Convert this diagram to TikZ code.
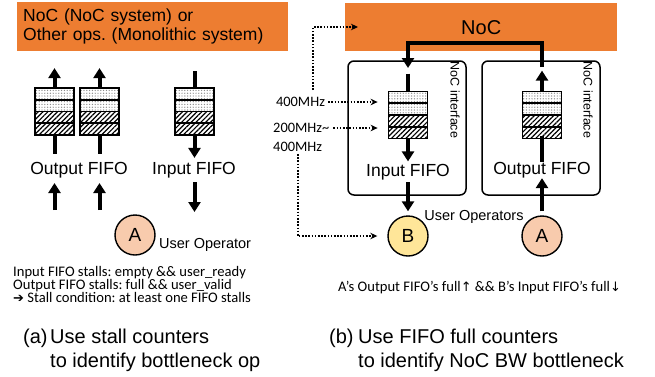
\documentclass[tikz,border=0pt]{standalone}
\usepackage{fontspec}
\setmainfont{Liberation Sans}
\newfontfamily\calibri{Carlito}
\newfontfamily\dejavu{DejaVu Sans}
\usetikzlibrary{arrows.meta,patterns.meta,positioning,calc}

\definecolor{nocorange}{HTML}{ED7D31}
\definecolor{opa}{HTML}{F8CBAD}
\definecolor{opb}{HTML}{FFE699}

\tikzset{
  big/.style={line width=4pt},
  bigarrow/.style={big, -{Triangle[width=12pt,length=10pt]}},
  clk/.style={line width=1.8pt, dash pattern=on 1.6pt off 1.6pt,
    -{Stealth[length=7pt,width=6.5pt]}},
  nocbox/.style={fill=nocorange, inner sep=6pt},
  ifbox/.style={draw, line width=1.5pt, rounded corners=6pt,
    minimum width=118pt, minimum height=134pt},
  fifobox/.style={draw, line width=1.8pt, minimum width=39pt,
    minimum height=47pt, inner sep=0pt},
  op/.style={circle, draw, line width=1.4pt, minimum size=40pt, inner sep=0pt,
    font=\fontsize{19}{19}\selectfont},
  txt/.style={inner sep=0pt, font=\fontsize{17.5}{19}\selectfont},
  optxt/.style={inner sep=0pt, font=\fontsize{14.5}{16}\selectfont},
  captxt/.style={inner sep=0pt, font=\fontsize{20}{24}\selectfont},
  clktxt/.style={inner sep=3pt, font=\calibri\fontsize{14.4}{19}\selectfont},
  iftxt/.style={inner sep=0pt, rotate=-90, font=\fontsize{12.5}{12.5}\selectfont},
}

% one FIFO: two empty slots (dots) on top, two filled slots (hatch) below
\newcommand{\fifo}[2]{%
  \begin{scope}[shift={(#2)}]
    \foreach \k in {0,1}
      \fill[pattern={Dots[distance=2.8pt,radius=0.7pt]}, pattern color=black!45]
        (-19.5,-23.5+\k*11.75) rectangle ++(39,11.75);
    \foreach \k in {2,3}
      \fill[pattern={Lines[angle=45,distance=3.4pt,line width=1.2pt]}]
        (-19.5,-23.5+\k*11.75) rectangle ++(39,11.75);
    \foreach \k in {1,2,3}
      \draw[line width=1.6pt] (-19.5,-23.5+\k*11.75) -- ++(39,0);
    \node[fifobox] (#1) at (0,0) {};
  \end{scope}}

\begin{document}
\frenchspacing
\begin{tikzpicture}[x=1pt,y=-1pt]
  \useasboundingbox (0,0) rectangle (655,376);

  %%% (a) monolithic / stall counters
  \node[nocbox, anchor=north west, minimum width=271pt, minimum height=49pt,
    text width=259pt, align=left, font=\fontsize{17.5}{19}\selectfont]
    (sys) at (17,2) {NoC (NoC system) or\\Other ops. (Monolithic system)};

  \fifo{outa}{54.5,111.5}
  \fifo{outb}{99.5,111.5}
  \fifo{inf}{194.5,111.5}

  \foreach \n in {outa,outb} {
    \coordinate[above=19pt of \n] (\n up);
    \coordinate[below=18pt of \n] (\n down);
    \draw[bigarrow] (\n) -- (\n up);
    \draw[big] (\n down) -- (\n);
  }
  \coordinate[above=16pt of inf] (inf in);
  \coordinate[below=22pt of inf] (inf out);
  \draw[big] (inf in) -- (inf);
  \draw[bigarrow] (inf) -- (inf out);

  \node[txt] (outlbl) at (79,170) {Output FIFO};
  \node[txt] (inlbl) at (194,170) {Input FIFO};

  % user side of the FIFOs
  \foreach \n/\x in {outa/54.5,outb/99.5} {
    \coordinate (\n src) at (\x,210);
    \coordinate (\n dst) at (\x,183);
    \draw[bigarrow] (\n src) -- (\n dst);
  }
  \coordinate (inf src) at (194.5,182);
  \coordinate (inf dst) at (194.5,212);
  \draw[bigarrow] (inf src) -- (inf dst);

  \node[op, fill=opa] (opa) at (135,235) {A};
  \node[optxt, anchor=west] (usrop) at (159,245) {User Operator};

  \node[inner sep=0pt, anchor=north west, align=left,
    font=\calibri\fontsize{14.6}{13.3}\selectfont] (stall) at (13,266)
    {Input FIFO stalls: empty \&\& user\_ready\\
     Output FIFO stalls: full \&\& user\_valid\\
     {\dejavu\fontsize{13}{13}\selectfont ➔} Stall condition: at least one FIFO stalls};

  \node[captxt, anchor=base west] (capa) at (23,343) {(a)};
  \node[captxt, anchor=north west, align=left] (capatxt) at (50,329)
    {Use stall counters\\to identify bottleneck op};

  %%% (b) NoC system / FIFO full counters
  \node[nocbox, anchor=north west, minimum width=272pt, minimum height=48pt,
    font=\fontsize{20}{20}\selectfont] (noc) at (345,3) {NoC};

  \node[ifbox] (ifin) at (407,128) {};
  \node[ifbox] (ifout) at (541,128) {};
  \node[iftxt] at (455,100) {NoC interface};
  \node[iftxt] at (588,100) {NoC interface};

  \fifo{fin}{408,115}
  \fifo{fout}{542,115}

  % NoC channel from A's output FIFO to B's input FIFO
  \coordinate (noc out) at (542,67);
  \coordinate (noc in) at (408,68);
  \draw[bigarrow] (noc out) -- ++(0,-24) -| (noc in);

  \coordinate[above=17pt of fin] (fin src);
  \coordinate[below=22pt of fin] (fin dst);
  \draw[big] (fin src) -- (fin);
  \draw[bigarrow] (fin) -- (fin dst);
  \coordinate[above=20pt of fout] (fout dst);
  \draw[bigarrow] (fout) -- (fout dst);

  \node[txt] (finlbl) at (408,172) {Input FIFO};
  \node[txt] (foutlbl) at (542,170) {Output FIFO};

  \node[op, fill=opb] (opb) at (408,236) {B};
  \node[op, fill=opa] (opa2) at (542,236) {A};
  \node[optxt] (usrops) at (474,217) {User Operators};

  \draw[bigarrow, shorten <=2pt, shorten >=4pt] (finlbl) -- (opb);
  \draw[bigarrow, shorten <=4pt] (opa2) -- (foutlbl);
  \draw[big, shorten >=-3pt] (foutlbl) -- (fout);

  % clock domains
  \node[clktxt] (f400) at (300.5,102) {400MHz};
  \node[clktxt, anchor=west, inner sep=0pt] (f200) at (273,128) {200MHz\textasciitilde};
  \node[clktxt, anchor=west, inner sep=0pt] (f400b) at (273,147) {400MHz};

  \coordinate (clk src) at (313,90);
  \coordinate (clk noc) at (358,27);
  \draw[clk] (clk src) |- (clk noc);
  \draw[clk, shorten >=10pt] (f400) -- (f400 -| fin.west);
  \draw[clk, shorten <=4pt, shorten >=10pt] (f200) -- (f200 -| fin.west);
  \draw[clk, shorten <=2pt, shorten >=10pt] (f400b) |- (opb);

  \node[inner sep=0pt, font=\calibri\fontsize{14.6}{14}\selectfont] (fullcond)
    at (479.5,288) {A’s Output FIFO’s full{\dejavu\fontsize{13}{13}\selectfont ↑}
    \&\& B’s Input FIFO’s full{\dejavu\fontsize{13}{13}\selectfont ↓}};

  \node[captxt, anchor=base west] (capb) at (329,343) {(b)};
  \node[captxt, anchor=north west, align=left] (capbtxt) at (358,329)
    {Use FIFO full counters\\to identify NoC BW bottleneck};
\end{tikzpicture}
\end{document}
